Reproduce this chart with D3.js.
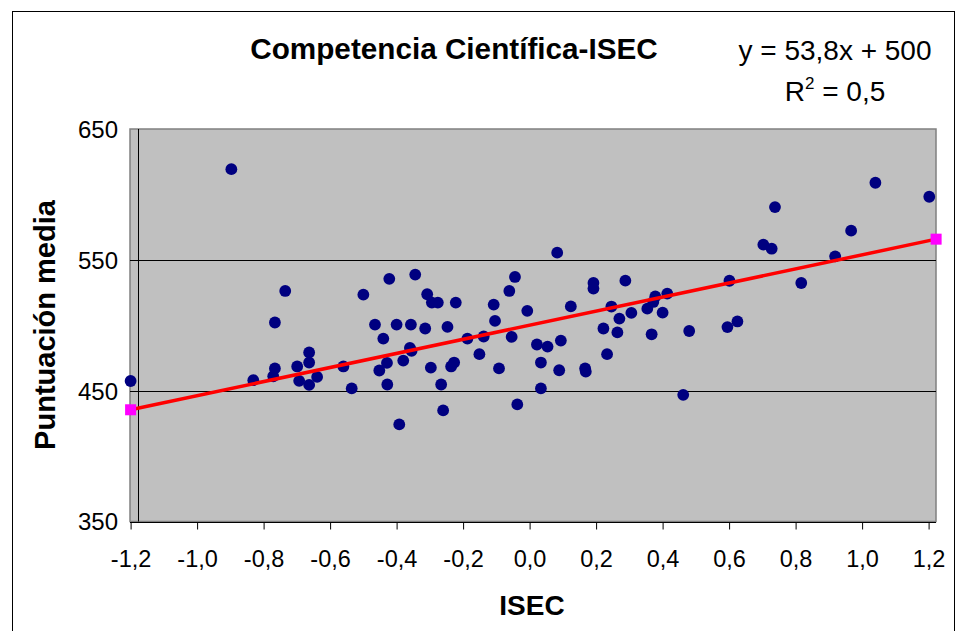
<!DOCTYPE html>
<html>
<head>
<meta charset="utf-8">
<script src="https://cdn.jsdelivr.net/npm/d3@7"></script>
<style>
  html, body { margin: 0; padding: 0; background: #ffffff; }
  svg { display: block; }
  text { font-family: "Liberation Sans", Arial, Helvetica, sans-serif; fill: #000; }
</style>
</head>
<body>
<svg id="chart" width="967" height="631"></svg>
<script>
// ---- data ----
const isec = [
  -1.200, -0.897, -0.831, -0.771, -0.766, -0.766, -0.735, -0.699, -0.693, -0.663,
  -0.663, -0.663, -0.639, -0.560, -0.535, -0.500, -0.465, -0.452, -0.440, -0.429,
  -0.428, -0.422, -0.400, -0.392, -0.380, -0.360, -0.355, -0.357, -0.344, -0.314,
  -0.308, -0.297, -0.294, -0.276, -0.266, -0.260, -0.247, -0.236, -0.227, -0.222,
  -0.187, -0.151, -0.138, -0.108, -0.104, -0.092, -0.061, -0.054, -0.044, -0.037,
  -0.007, 0.022, 0.034, 0.034, 0.054, 0.083, 0.089, 0.094, 0.124, 0.167,
  0.169, 0.192, 0.192, 0.222, 0.233, 0.246, 0.264, 0.270, 0.288, 0.306,
  0.354, 0.367, 0.372, 0.378, 0.400, 0.414, 0.462, 0.480, 0.595, 0.601,
  0.625, 0.703, 0.728, 0.738, 0.817, 0.919, 0.967, 1.040, 1.202
];
const puntuacion = [
  457.4, 619.3, 458.0, 461.0, 467.0, 502.1, 526.2, 468.5, 457.5, 479.2,
  471.5, 454.4, 460.5, 468.5, 451.7, 523.4, 500.5, 465.4, 489.8, 471.2,
  454.7, 535.5, 500.5, 424.2, 473.0, 482.7, 480.4, 500.5, 538.7, 497.5,
  523.7, 467.6, 517.3, 517.3, 454.7, 434.9, 498.7, 468.5, 471.5, 517.3,
  489.8, 477.9, 491.4, 515.8, 503.3, 467.0, 526.2, 491.1, 536.9, 439.5,
  511.0, 485.3, 471.5, 451.7, 483.7, 555.5, 465.6, 488.3, 514.4, 467.0,
  464.5, 532.3, 528.0, 497.5, 477.9, 514.3, 494.5, 505.1, 534.1, 509.4,
  512.7, 493.1, 517.8, 522.0, 509.6, 524.2, 446.8, 495.6, 498.6, 534.0,
  502.9, 561.6, 558.5, 590.3, 532.3, 552.7, 572.3, 608.9, 598.2
];
// trendline end points (drawn as magenta squares in the reference)
const trendX = [-1.2, 1.2226];
const trendY = [435.4, 565.8];

const xTicks = [-1.2, -1.0, -0.8, -0.6, -0.4, -0.2, 0.0, 0.2, 0.4, 0.6, 0.8, 1.0, 1.2];
const xTickLabels = ["-1,2", "-1,0", "-0,8", "-0,6", "-0,4", "-0,2", "0,0", "0,2", "0,4", "0,6", "0,8", "1,0", "1,2"];
const yTicks = [350, 450, 550, 650];
const yTickLabels = ["350", "450", "550", "650"];
const gridValues = [450, 550];

const titleText = "Competencia Científica-ISEC";
const xLabel = "ISEC";
const yLabel = "Puntuación media";
const eqLine1 = "y = 53,8x + 500";
const eqR = "R";
const eqSup = "2";
const eqRest = " = 0,5";

// ---- layout ----
const svg = d3.select("#chart");
const x = d3.scaleLinear().domain([-1.2, 1.2]).range([130.6, 928.6]);
const y = d3.scaleLinear().domain([350, 650]).range([521.5, 129]);
const plotL = 130, plotR = 936, plotT = y(650), plotB = y(350);

// outer chart border
svg.append("rect")
  .attr("x", 12.5).attr("y", 11.5).attr("width", 942).attr("height", 640)
  .attr("fill", "#fff").attr("stroke", "#000").attr("stroke-width", 1);

// plot area
svg.append("rect")
  .attr("x", plotL).attr("y", plotT).attr("width", plotR - plotL).attr("height", plotB - plotT)
  .attr("fill", "#c0c0c0").attr("stroke", "#808080").attr("stroke-width", 1.5);

// gridlines
svg.append("g").selectAll("line").data(gridValues).join("line")
  .attr("x1", plotL).attr("x2", plotR)
  .attr("y1", d => Math.round(y(d)) + 0.5).attr("y2", d => Math.round(y(d)) + 0.5)
  .attr("stroke", "#000").attr("stroke-width", 1);

// vertical value-axis line inside plot
svg.append("line")
  .attr("x1", Math.round(x(-1.177)) + 0.5).attr("x2", Math.round(x(-1.177)) + 0.5)
  .attr("y1", plotT).attr("y2", plotB)
  .attr("stroke", "#000").attr("stroke-width", 1);

// x axis
const xAxis = d3.axisBottom(x).tickValues(xTicks).tickSize(7).tickSizeOuter(0)
  .tickFormat((d, i) => xTickLabels[i]);
const gx = svg.append("g").attr("transform", `translate(0,${Math.round(plotB) + 0.5})`).call(xAxis);
gx.select(".domain").attr("d", `M${plotL},0H${plotR}`).attr("stroke", "#000");
gx.selectAll(".tick line").attr("stroke", "#000");
gx.selectAll(".tick text").attr("font-size", 23.5).attr("y", 44).attr("dy", 0)
  .style("font-family", '"Liberation Sans", Arial, sans-serif');

// y axis labels
const yAxis = d3.axisLeft(y).tickValues(yTicks).tickSize(0).tickPadding(12)
  .tickFormat((d, i) => yTickLabels[i]);
const gy = svg.append("g").attr("transform", `translate(${plotL},0)`).call(yAxis);
gy.select(".domain").remove();
gy.selectAll(".tick text").attr("font-size", 24).attr("dy", "0.35em")
  .style("font-family", '"Liberation Sans", Arial, sans-serif');

// points
svg.append("g").selectAll("circle").data(isec.map((v, i) => [v, puntuacion[i]])).join("circle")
  .attr("cx", d => x(d[0])).attr("cy", d => y(d[1])).attr("r", 5.9)
  .attr("fill", "#000080");

// trendline
const line = d3.line().x(d => x(d[0])).y(d => y(d[1]));
const trend = trendX.map((v, i) => [v, trendY[i]]);
svg.append("path").datum(trend).attr("d", line)
  .attr("fill", "none").attr("stroke", "#ff0000").attr("stroke-width", 3.5);
svg.append("g").selectAll("rect").data(trend).join("rect")
  .attr("x", d => x(d[0]) - 5.5).attr("y", d => y(d[1]) - 5.5)
  .attr("width", 11).attr("height", 11).attr("fill", "#ff00ff");

// title
svg.append("text").attr("x", 454).attr("y", 59).attr("text-anchor", "middle")
  .attr("font-size", 29.7).attr("font-weight", "bold").text(titleText);

// equation
svg.append("text").attr("x", 835).attr("y", 60).attr("text-anchor", "middle")
  .attr("font-size", 28).text(eqLine1);
const r2 = svg.append("text").attr("x", 835).attr("y", 101).attr("text-anchor", "middle")
  .attr("font-size", 28);
r2.append("tspan").text(eqR);
r2.append("tspan").attr("font-size", 17).attr("dy", -12).text(eqSup);
r2.append("tspan").attr("dy", 12).text(eqRest);

// axis titles
svg.append("text").attr("x", 532).attr("y", 615).attr("text-anchor", "middle")
  .attr("font-size", 28).attr("font-weight", "bold").text(xLabel);
svg.append("text").attr("transform", "translate(55,325) rotate(-90)").attr("text-anchor", "middle")
  .attr("font-size", 29).attr("font-weight", "bold").text(yLabel);
</script>
</body>
</html>
